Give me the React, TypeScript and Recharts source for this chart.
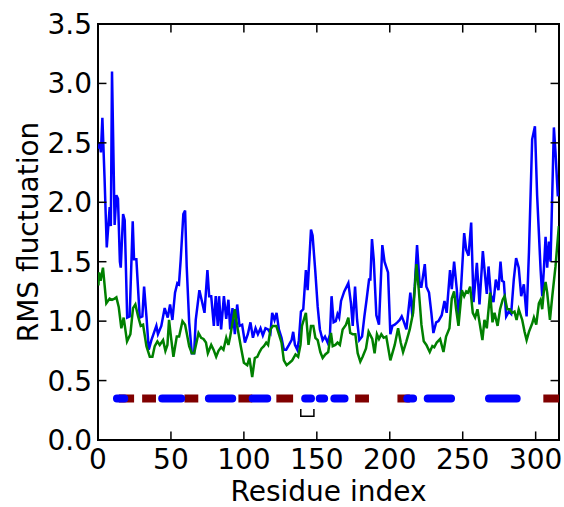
import { LineChart, Line, XAxis, YAxis, ReferenceLine, ReferenceArea } from 'recharts';

const FONT = '"DejaVu Sans", sans-serif';
const X_MAX = 316;
const Y_MAX = 3.5;

const xTicks = [0, 50, 100, 150, 200, 250, 300];
const yTicks = [0, 0.5, 1, 1.5, 2, 2.5, 3, 3.5];

// [residue, rmsf] pairs for the two fluctuation profiles
const blueRmsf: [number, number][] = [
  [0.5, 2.45], [1.2, 2.5], [2, 2.42], [3, 2.71], [4.5, 2.2], [6, 1.62], [8, 1.96], [8.8, 1.8],
  [9.6, 3.1], [11.4, 1.81], [12.6, 2.06], [13.7, 2.03], [15, 1.5], [15.6, 1.45], [17.2, 1.9],
  [18.3, 1.85], [20, 1.03], [21.7, 1.04], [23.8, 1.84], [24.7, 1.52], [26.3, 1.52], [28.6, 1.03],
  [30.4, 1.04], [31.6, 1.29], [33.2, 1.04], [34.8, 0.76], [36.6, 0.84], [40, 0.96], [41.1, 0.89],
  [43.4, 0.96], [45.7, 1.11], [47.8, 1.03], [49.4, 1.14], [51, 1.01], [52.8, 1.24], [54.4, 1.32],
  [55.5, 1.31], [56.7, 1.52], [58.5, 1.9], [59.7, 1.93], [60.8, 1.46], [62.5, 0.99], [64.3, 0.73],
  [65.9, 0.73], [67, 1.01], [69.5, 1.26], [71.2, 1.17], [73, 1.07], [75, 1.43], [76.2, 1.21],
  [77.6, 1.21], [79.4, 0.96], [80.7, 1.21], [82.1, 0.96], [83, 1.21], [84.4, 0.93], [86.3, 1.21],
  [87.9, 1.02], [89.4, 1.18], [90.6, 0.93], [92.2, 1.11], [93.8, 0.89], [95.4, 1.14], [97, 0.96],
  [98.8, 0.97], [100.7, 0.82], [102.7, 0.89], [104.5, 0.99], [106.2, 0.86], [108, 0.94],
  [109.6, 0.89], [111.4, 0.94], [113, 0.88], [114.8, 0.94], [116.6, 0.93], [118.2, 0.9],
  [119.4, 1.07], [121, 1.01], [122.4, 1.07], [124, 0.93], [125.8, 0.86], [127.4, 0.76], [129, 0.76],
  [130.9, 0.8], [132.7, 0.84], [133.8, 0.91], [135, 0.8], [136.6, 0.76], [137.7, 0.84],
  [139.1, 1.08], [140.7, 1.1], [142.5, 1.43], [143.7, 1.26], [146, 1.77], [147.1, 1.72],
  [149, 1.41], [150.6, 1.12], [152.1, 0.93], [154, 0.84], [155.6, 0.87], [157.4, 0.82], [159, 0.89],
  [160.1, 1.21], [161.5, 0.99], [163, 1.0], [164.2, 1.06], [165.3, 1.03], [166.6, 1.17],
  [168.8, 1.25], [171.6, 1.32], [173.4, 1.15], [174.6, 0.96], [176.2, 1.29], [177.6, 1.01],
  [179.1, 0.84], [181, 0.87], [182.6, 1.04], [184.1, 1.18], [185.8, 1.35], [186.7, 1.35],
  [187.8, 1.69], [189, 1.52], [190.8, 1.05], [192.6, 0.97], [194.9, 1.64], [196.4, 1.5],
  [198.8, 1.41], [200.4, 0.89], [201.8, 0.96], [203.4, 0.97], [205.2, 0.99], [206.8, 1.01],
  [208.2, 1.04], [209.5, 1.0], [211.4, 0.93], [214.1, 1.24], [215.5, 1.04], [217.1, 1.29],
  [218.7, 1.64], [220.6, 1.29], [221.7, 1.29], [224, 1.48], [225.1, 1.29], [226.9, 1.24],
  [228.5, 1.07], [229.9, 0.9], [231.8, 0.99], [233.4, 1.0], [235.6, 1.05], [237.5, 1.17],
  [239, 1.07], [241.3, 1.43], [242.5, 1.27], [244.1, 1.5], [246, 1.26], [247.1, 1.04],
  [248.7, 1.25], [251, 1.74], [252.4, 1.6], [254, 1.55], [255.8, 1.83], [257.4, 1.16],
  [259.7, 1.49], [261.5, 1.14], [263.8, 1.59], [265.4, 1.37], [266.5, 1.23], [267.7, 1.46],
  [269.3, 1.22], [271.1, 1.16], [272.7, 1.35], [274.5, 1.26], [275.9, 1.5], [277, 1.34],
  [278.2, 1.33], [279.8, 1.04], [281.6, 1.08], [283.2, 1.06], [285, 1.35], [286.6, 1.53],
  [288.4, 1.45], [290.1, 1.21], [291.9, 1.31], [293.8, 1.04], [295.4, 1.58], [297.6, 2.53],
  [299.5, 2.64], [301, 2.06], [303.4, 1.43], [304.5, 1.21], [305.6, 1.43], [306.8, 1.71],
  [307.9, 1.45], [309.1, 1.67], [310.2, 1.5], [311.4, 2.08], [312.5, 2.63], [313.6, 2.42],
  [315.2, 2.05],
];

const greenRmsf: [number, number][] = [
  [0.3, 1.3], [0.7, 1.41], [1.8, 1.34], [3.4, 1.45], [5.7, 1.15], [8, 1.19], [9.6, 1.18],
  [11.4, 1.19], [12.6, 1.2], [14.2, 1.12], [16, 0.94], [17.6, 1.03], [19.9, 0.83], [22.2, 0.89],
  [24, 1.11], [25.6, 1.14], [27.5, 1.04], [29.3, 0.96], [30.9, 0.97], [33.2, 0.79], [35.5, 0.7],
  [37.3, 0.7], [38.9, 0.79], [40.7, 0.83], [42.3, 0.8], [44.6, 0.84], [46.2, 0.75], [47.6, 0.8],
  [48.7, 1.01], [50.1, 0.86], [51.7, 0.7], [54, 0.87], [55.6, 0.87], [57.9, 1.0], [59.7, 0.97],
  [60.8, 0.9], [62.5, 0.79], [64.3, 0.73], [65.9, 0.73], [67.7, 0.83], [68.9, 0.9], [70.7, 0.86],
  [72.3, 0.85], [74, 0.82], [75.3, 0.73], [77.6, 0.8], [79.2, 0.76], [81, 0.7], [82.6, 0.75],
  [84.4, 0.78], [86, 0.76], [87.9, 0.86], [89.4, 0.8], [90.6, 0.87], [92.4, 1.0], [93.8, 1.1],
  [95.4, 0.96], [97.7, 0.8], [100, 0.65], [102.3, 0.63], [103.8, 0.69], [105.7, 0.53],
  [107.5, 0.69], [109.2, 0.7], [110.7, 0.74], [112.1, 0.77], [113.7, 0.79], [115.3, 0.82],
  [116.6, 0.8], [118.2, 0.93], [119.9, 0.96], [122.2, 0.96], [124, 0.89], [125.8, 0.82],
  [127.4, 0.67], [129.3, 0.63], [131.3, 0.65], [133.1, 0.67], [135.4, 0.72], [137.2, 0.7],
  [138.8, 0.8], [139.8, 0.96], [142.5, 1.07], [144.3, 0.8], [146, 0.96], [147.6, 0.96],
  [149, 0.86], [150.6, 0.84], [152.4, 0.74], [154, 0.69], [155.8, 0.72], [157.8, 0.74],
  [159.7, 0.9], [160.9, 0.79], [162.7, 0.8], [164.2, 0.82], [165.8, 0.8], [167.7, 0.93],
  [170, 0.97], [171.6, 1.03], [172.9, 0.9], [174.6, 0.89], [176.4, 0.89], [178, 0.73],
  [179.8, 0.66], [181.4, 0.7], [183.7, 0.77], [185.5, 0.91], [188, 0.85], [189.6, 0.73],
  [191.2, 0.89], [192.6, 0.85], [194.2, 0.89], [195.8, 0.86], [197.6, 0.87], [200.4, 0.67],
  [203.4, 0.8], [205.7, 0.94], [207.5, 0.82], [209.1, 0.74], [211.4, 0.83], [213.7, 0.93],
  [216, 1.07], [218.3, 1.48], [219.9, 1.26], [221.7, 0.97], [223.3, 0.83], [225.1, 0.8],
  [227.4, 0.74], [229.2, 0.79], [230.5, 0.78], [232.2, 0.82], [234.5, 0.85], [236.8, 0.74],
  [238.6, 0.87], [240.9, 0.94], [242.5, 1.19], [244.1, 1.25], [245.5, 1.1], [247.1, 0.96],
  [249.4, 1.26], [251, 1.21], [252.4, 1.25], [253.6, 1.24], [255.1, 1.29], [256.9, 1.07],
  [258.5, 1.03], [260.1, 1.1], [261.9, 0.96], [263.5, 0.84], [264.9, 1.01], [266.5, 0.94],
  [268.8, 1.24], [270.4, 0.99], [271.8, 1.07], [273.9, 0.96], [275.6, 1.1], [277.4, 1.18],
  [278.7, 1.21], [280.5, 1.1], [282.3, 1.1], [283.9, 1.07], [285.5, 1.08], [286.9, 1.01],
  [288.4, 1.1], [290.8, 1.01], [292.4, 0.91], [293.8, 0.84], [295.4, 0.91], [297.6, 0.98],
  [298.8, 1.03], [300.4, 0.97], [302.2, 1.15], [303.4, 1.18], [304.5, 1.1], [305.6, 1.25],
  [306.8, 1.33], [307.9, 1.24], [309.8, 1.01], [311.4, 1.21], [313.6, 1.46], [315.9, 1.8],
];

// secondary structure track: helices (blue) and strands (dark red), residue ranges
const TRACK_Y = 0.35;
const helixRanges: [number, number][] = [
  [13, 18], [44, 57], [76, 92], [106, 116], [142, 146], [152, 155], [162, 169],
  [212, 216], [226, 242], [268, 287],
];
const strandRanges: [number, number][] = [
  [17, 22], [33, 37], [62, 66], [99, 103], [125, 131], [179, 183], [208, 211], [308, 316],
];

// small bracket under the track
const bracket: [number, number][] = [[139, 0.26], [139, 0.2], [148, 0.2], [148, 0.26]];

const toPoints = (pairs: [number, number][]) => pairs.map(([x, y]) => ({ x, y }));

const rangesToTrack = (ranges: [number, number][]) => {
  const pts: { x: number; y: number | null }[] = [];
  ranges.forEach(([a, b]) => {
    pts.push({ x: a, y: TRACK_Y }, { x: b, y: TRACK_Y }, { x: b + 0.5, y: null });
  });
  return pts;
};

// inward tick marks on all four spines, in data units
const TICK_X = 5.8;
const TICK_Y = 0.072;

export default function App() {
  return (
    <div style={{ position: 'absolute', left: 0, top: 0, background: '#fff' }}>
      <LineChart width={564} height={507} margin={{ top: 24, right: 5, bottom: 0, left: 0 }}>
        <XAxis
          type="number"
          dataKey="x"
          domain={[0, X_MAX]}
          ticks={xTicks}
          allowDataOverflow
          axisLine={false}
          tickLine={false}
          tickSize={0}
          tickMargin={9}
          height={67}
          tick={{ fontSize: 28, fill: '#000', fontFamily: FONT }}
          label={{
            content: (props: any) => {
              const vb = props.viewBox;
              return (
                <text x={vb.x + vb.width / 2} y={501} textAnchor="middle" fontSize={28} fontFamily={FONT} fill="#000">
                  Residue index
                </text>
              );
            },
          }}
        />
        <YAxis
          type="number"
          dataKey="y"
          domain={[0, Y_MAX]}
          ticks={yTicks}
          allowDataOverflow
          axisLine={false}
          tickLine={false}
          tickSize={0}
          tickMargin={6}
          width={98}
          tickFormatter={(v: number) => v.toFixed(1)}
          tick={{ fontSize: 28, fill: '#000', fontFamily: FONT }}
          label={{
            content: (props: any) => {
              const vb = props.viewBox;
              const cx = 28;
              const cy = vb.y + vb.height / 2;
              return (
                <text
                  x={cx}
                  y={cy}
                  transform={`rotate(-90 ${cx} ${cy})`}
                  textAnchor="middle"
                  dominantBaseline="central"
                  fontSize={28}
                  fontFamily={FONT}
                  fill="#000"
                >
                  RMS fluctuation
                </text>
              );
            },
          }}
        />

        <Line data={toPoints(blueRmsf)} dataKey="y" type="linear" stroke="#0000ff" strokeWidth={2.5} dot={false} isAnimationActive={false} />
        <Line data={toPoints(greenRmsf)} dataKey="y" type="linear" stroke="#008000" strokeWidth={2.5} dot={false} isAnimationActive={false} />

        <Line data={rangesToTrack(strandRanges)} dataKey="y" type="linear" stroke="#800000" strokeWidth={8} strokeLinecap="square" dot={false} isAnimationActive={false} />
        <Line data={rangesToTrack(helixRanges)} dataKey="y" type="linear" stroke="#0000ff" strokeWidth={8} strokeLinecap="round" dot={false} isAnimationActive={false} />
        <Line data={toPoints(bracket)} dataKey="y" type="linear" stroke="#000" strokeWidth={1.5} dot={false} isAnimationActive={false} />

        {xTicks.slice(1).map((t) => (
          <ReferenceLine key={`xb${t}`} segment={[{ x: t, y: 0 }, { x: t, y: TICK_Y }]} stroke="#000" strokeWidth={1.5} />
        ))}
        {xTicks.slice(1).map((t) => (
          <ReferenceLine key={`xt${t}`} segment={[{ x: t, y: Y_MAX }, { x: t, y: Y_MAX - TICK_Y }]} stroke="#000" strokeWidth={1.5} />
        ))}
        {yTicks.slice(1, -1).map((t) => (
          <ReferenceLine key={`yl${t}`} segment={[{ x: 0, y: t }, { x: TICK_X, y: t }]} stroke="#000" strokeWidth={1.5} />
        ))}
        {yTicks.slice(1, -1).map((t) => (
          <ReferenceLine key={`yr${t}`} segment={[{ x: X_MAX, y: t }, { x: X_MAX - TICK_X, y: t }]} stroke="#000" strokeWidth={1.5} />
        ))}

        <ReferenceArea x1={0} x2={X_MAX} y1={0} y2={Y_MAX} fill="none" fillOpacity={0} stroke="#000" strokeWidth={2} ifOverflow="visible" />
      </LineChart>
    </div>
  );
}
